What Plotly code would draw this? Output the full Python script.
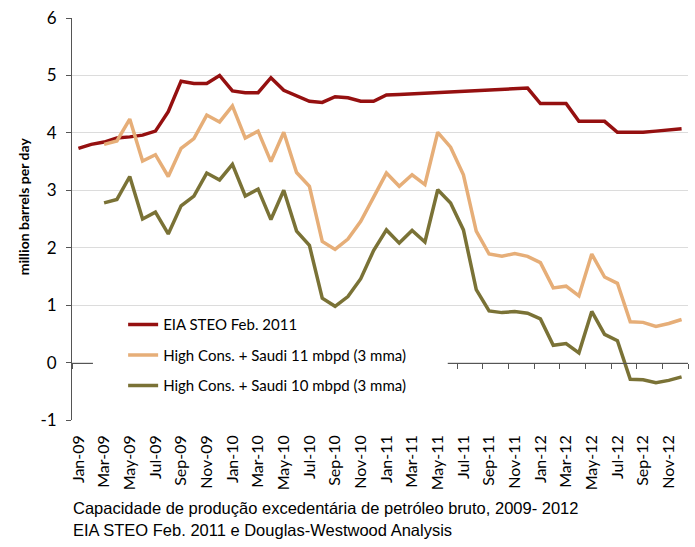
import plotly.graph_objects as go

months = ["Jan", "Feb", "Mar", "Apr", "May", "Jun", "Jul", "Aug", "Sep", "Oct", "Nov", "Dec"]
categories = [f"{m}-{y:02d}" for y in (9, 10, 11, 12) for m in months]

eia = [3.73, 3.80, 3.84, 3.91, 3.93, 3.96, 4.03, 4.37, 4.90, 4.86, 4.86, 5.00,
       4.73, 4.70, 4.70, 4.96, 4.74, 4.64, 4.55, 4.53, 4.63, 4.61, 4.55, 4.55,
       4.66, 4.67, 4.68, 4.69, 4.70, 4.71, 4.72, 4.74, 4.74, 4.75, 4.76, 4.78,
       4.51, 4.51, 4.51, 4.20, 4.20, 4.20, 4.01, 4.01, 4.01, 4.03, 4.05, 4.07]

high11 = [None, None, 3.80, 3.86, 4.24, 3.51, 3.62, 3.24, 3.73, 3.90, 4.31, 4.19,
          4.47, 3.91, 4.03, 3.50, 4.01, 3.31, 3.07, 2.11, 1.97, 2.15, 2.46, 2.89,
          3.30, 3.07, 3.27, 3.10, 4.01, 3.75, 3.27, 2.29, 1.89, 1.85, 1.90, 1.85,
          1.74, 1.30, 1.33, 1.16, 1.89, 1.49, 1.38, 0.71, 0.70, 0.63, 0.68, 0.75]

high10 = [None, None, 2.78, 2.84, 3.24, 2.50, 2.62, 2.24, 2.73, 2.90, 3.30, 3.18,
          3.45, 2.90, 3.02, 2.49, 3.00, 2.29, 2.04, 1.12, 0.98, 1.15, 1.46, 1.95,
          2.31, 2.08, 2.30, 2.10, 3.01, 2.78, 2.31, 1.27, 0.90, 0.87, 0.89, 0.86,
          0.76, 0.30, 0.33, 0.17, 0.89, 0.49, 0.38, -0.29, -0.30, -0.35, -0.31, -0.25]

tick_labels = categories[::2]
y_ticks = [-1, 0, 1, 2, 3, 4, 5, 6]
y_tick_labels = ["-1", "0", "1", "2", "3", "4", "5", "6"]
boundary_ticks = [k - 0.5 for k in range(0, 49, 2)]

series = [
    ("EIA STEO Feb. 2011", eia, "#951010"),
    ("High Cons. + Saudi 11 mbpd (3 mma)", high11, "#E6AE78"),
    ("High Cons. + Saudi 10 mbpd (3 mma)", high10, "#7A7236"),
]

fig = go.Figure()
for i, (name, vals, col) in enumerate(series):
    fig.add_trace(go.Scatter(
        x=list(range(len(categories))), y=vals, name=name, mode="lines",
        line=dict(color=col, width=3.5), legendgroup=f"g{i}",
        connectgaps=False,
    ))

# invisible helper on the overlaying axis that draws the zero line with its ticks
fig.add_trace(go.Scatter(x=[-0.5], y=[0], xaxis="x2", mode="markers",
                         marker=dict(opacity=0), showlegend=False, hoverinfo="skip"))

fig.update_layout(
    width=695, height=547,
    margin=dict(l=72, r=7, t=12, b=127),
    paper_bgcolor="white", plot_bgcolor="white",
    font=dict(family="Lato, Arial, sans-serif", color="black"),
    showlegend=True,
    legend=dict(
        x=0.083, y=0.278, xanchor="left", yanchor="top",
        bgcolor="rgba(0,0,0,0)", font=dict(size=15, family="Lato, sans-serif"),
        tracegroupgap=8, itemwidth=30,
    ),
    shapes=[
        # white legend backdrop covering the zero axis line, as in the original
        dict(type="rect", xref="paper", yref="paper", layer="above",
             x0=0.034, x1=0.61, y0=0.04, y1=0.27,
             fillcolor="white", line=dict(width=0)),
    ],
    xaxis=dict(
        range=[-0.5, 47.5], tickmode="array",
        tickvals=list(range(0, 48, 2)), ticktext=tick_labels,
        tickangle=-90, showgrid=False, zeroline=False, showline=False,
        ticks="", ticklabelstandoff=11,
        tickfont=dict(family="Lato, sans-serif", size=16),
    ),
    xaxis2=dict(
        overlaying="x", anchor="free", position=1 / 7, range=[-0.5, 47.5],
        tickmode="array", tickvals=boundary_ticks, showticklabels=False,
        ticks="outside", ticklen=5, tickcolor="#555", showline=True,
        linecolor="#555", linewidth=1, showgrid=False, zeroline=False,
    ),
    yaxis=dict(
        range=[-1, 6], tickmode="array", tickvals=y_ticks, ticktext=y_tick_labels,
        showgrid=True, gridcolor="#DCDCDC",
        zeroline=False, showline=True, linecolor="#555", linewidth=1,
        ticks="outside", ticklen=5, tickcolor="#555", ticklabelstandoff=6,
        tickfont=dict(size=17, family="Lato, sans-serif"),
    ),
    annotations=[
        dict(text="<b>million barrels per day</b>", textangle=-90,
             xref="paper", yref="paper", x=-0.0795, y=0.532,
             xanchor="center", yanchor="middle", showarrow=False,
             font=dict(size=14, family="Lato, sans-serif")),
        dict(text="Capacidade de produção excedentária de petróleo bruto, 2009- 2012",
             xref="paper", yref="paper", x=-0.002, y=-0.22, xanchor="left", yanchor="middle",
             showarrow=False, font=dict(size=16.5, family="Liberation Sans, Arial")),
        dict(text="EIA STEO Feb. 2011 e Douglas-Westwood Analysis",
             xref="paper", yref="paper", x=-0.002, y=-0.274, xanchor="left", yanchor="middle",
             showarrow=False, font=dict(size=16.5, family="Liberation Sans, Arial")),
    ],
)

fig.write_html("out.html")
